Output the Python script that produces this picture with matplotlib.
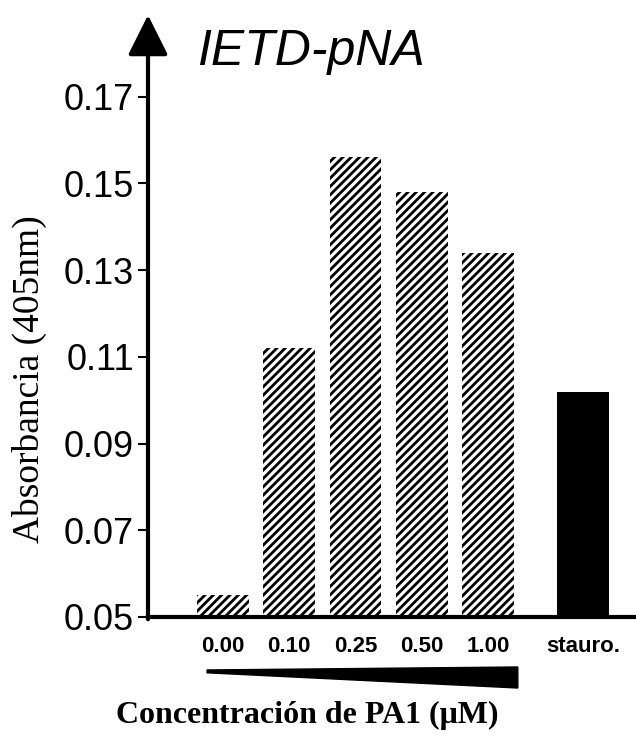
import matplotlib
matplotlib.use('Agg')
import matplotlib.pyplot as plt
from matplotlib.patches import Polygon

plt.rcParams['font.family'] = ['Liberation Sans', 'DejaVu Sans']
plt.rcParams['hatch.linewidth'] = 2.0

# datos
conc_labels = ['0.00', '0.10', '0.25', '0.50', '1.00']
absorb = [0.055, 0.112, 0.156, 0.148, 0.134]
stauro_label = 'stauro.'
stauro_val = 0.102
yticks = [0.05, 0.07, 0.09, 0.11, 0.13, 0.15, 0.17]

W, H = 636, 737
fig = plt.figure(figsize=(W / 100, H / 100), dpi=100)
ax = fig.add_axes([148 / W, 1 - 617 / H, 488 / W, 563.6 / H])

x = list(range(len(conc_labels)))
xs = 5.43
base = yticks[0]
ax.bar(x, [v - base for v in absorb], bottom=base, width=0.78, color='white',
       edgecolor='black', linewidth=0, hatch='////')
ax.bar([xs], [stauro_val - base], bottom=base, width=0.78, color='black', linewidth=0)

ax.set_xlim(-1.132, 6.234)
ax.set_ylim(0.05, 0.18)
ax.set_yticks(yticks)
ax.set_yticklabels(['%.2f' % t for t in yticks], fontsize=26)
ax.set_xticks(x + [xs])
ax.set_xticklabels(conc_labels + [stauro_label], fontsize=16, fontweight='bold')
ax.tick_params(axis='x', length=0, pad=14)
ax.tick_params(axis='y', length=7, width=1.5, pad=3, direction='out')

for s in ['top', 'right', 'left']:
    ax.spines[s].set_visible(False)
ax.spines['bottom'].set_linewidth(3)

# eje y con flecha
ax.annotate('', xy=(0, 1.068), xycoords='axes fraction', xytext=(0, -0.004),
            textcoords='axes fraction',
            arrowprops=dict(arrowstyle='-|>,head_length=0.4,head_width=0.2',
                            lw=3, color='black', mutation_scale=62,
                            shrinkA=0, shrinkB=0))

# cuña de concentracion
tr = ax.get_xaxis_transform()
wedge = Polygon([[-0.24, -0.094], [4.45, -0.0887], [4.45, -0.126], [-0.24, -0.099]],
                closed=True, transform=tr, color='black', clip_on=False)
ax.add_patch(wedge)

fig.text(197 / W, 1 - 52 / H, 'IETD-pNA', fontsize=36, style='italic',
         ha='left', va='center')
fig.text(307 / W, 1 - 715 / H, 'Concentración de PA1 (μM)', fontsize=23,
         fontweight='bold', family='Liberation Serif', ha='center', va='center')
fig.text(29 / W, 1 - 379 / H, 'Absorbancia (405nm)', fontsize=27, rotation=90,
         family='Liberation Serif', ha='center', va='center')

fig.savefig('out.png', dpi=100)
